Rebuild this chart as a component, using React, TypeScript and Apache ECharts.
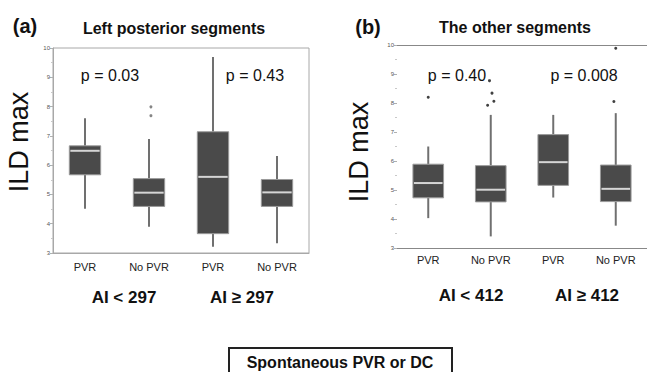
import React, { useEffect, useRef } from "react";
import * as echarts from "echarts";

const categories = ["PVR", "No PVR", "PVR", "No PVR"];
const groupLabelsA = ["AI < 297", "AI ≥ 297"];
const groupLabelsB = ["AI < 412", "AI ≥ 412"];
const pValuesA = ["p = 0.03", "p = 0.43"];
const pValuesB = ["p = 0.40", "p = 0.008"];

// [min, q1, median, q3, max]
const boxesA = [
  [4.51, 5.67, 6.49, 6.66, 7.6],
  [3.9, 4.59, 5.06, 5.54, 6.89],
  [3.21, 3.66, 5.6, 7.14, 9.69],
  [3.33, 4.59, 5.07, 5.51, 6.31],
];
const boxesB = [
  [4.03, 4.73, 5.24, 5.89, 6.5],
  [3.4, 4.59, 5.01, 5.84, 7.59],
  [4.74, 5.16, 5.96, 6.91, 7.59],
  [3.77, 4.6, 5.04, 5.86, 7.65],
];
// [category position, value]
const outliersA = [
  [1.03, 7.99],
  [1.03, 7.69],
];
const outliersB = [
  [0.0, 8.2],
  [0.98, 8.77],
  [1.02, 8.34],
  [1.05, 8.06],
  [0.95, 7.92],
  [3.0, 9.89],
  [2.97, 8.05],
];
const yTicks = { min: 3, max: 10, interval: 1 };

const FONT = "'Liberation Sans', Arial, sans-serif";

function renderBox(params: any, api: any) {
  const x = api.value(0);
  const lo = api.coord([x, api.value(1)]);
  const q1 = api.coord([x, api.value(2)]);
  const md = api.coord([x, api.value(3)]);
  const q3 = api.coord([x, api.value(4)]);
  const hi = api.coord([x, api.value(5)]);
  const bw = api.size([1, 0])[0] * 0.49;
  const whisker = { stroke: "#707070", lineWidth: 2 };
  return {
    type: "group",
    children: [
      { type: "line", shape: { x1: hi[0], y1: hi[1], x2: q3[0], y2: q3[1] }, style: whisker },
      { type: "line", shape: { x1: q1[0], y1: q1[1], x2: lo[0], y2: lo[1] }, style: whisker },
      {
        type: "rect",
        shape: { x: q3[0] - bw / 2, y: q3[1], width: bw, height: q1[1] - q3[1] },
        style: { fill: "#4a4a4a", stroke: "#9a9a9a", lineWidth: 1 },
      },
      {
        type: "line",
        shape: { x1: md[0] - bw / 2 + 1, y1: md[1], x2: md[0] + bw / 2 - 1, y2: md[1] },
        style: { stroke: "#d5d5d5", lineWidth: 2 },
      },
    ],
  };
}

function yAxisCfg(gridIndex: number, showLine: boolean) {
  return {
    type: "value",
    gridIndex,
    min: yTicks.min,
    max: yTicks.max,
    interval: yTicks.interval,
    axisLine: { show: showLine, onZero: false, lineStyle: { color: "#a8a8a8", width: 1 } },
    axisTick: { show: true, length: 3, lineStyle: { color: "#b0b0b0" } },
    minorTick: { show: true, splitNumber: 2, length: 2, lineStyle: { color: "#c8c8c8" } },
    splitLine: { show: false },
    axisLabel: { fontSize: 6, color: "#555", margin: 3, fontFamily: FONT },
  };
}

function txt(x: number, y: number, text: string, font: string, extra: any = {}) {
  return {
    type: "text",
    x,
    y,
    ...extra,
    style: { text, font, fill: "#111", align: "center", verticalAlign: "middle" },
  };
}

export default function App() {
  const ref = useRef<HTMLDivElement>(null);
  useEffect(() => {
    document.body.style.margin = "0";
    const chart = echarts.init(ref.current!, null, { renderer: "svg" });
    const option: any = {
      animation: false,
      backgroundColor: "#ffffff",
      grid: [
        { left: 53, top: 48, width: 256, height: 205, show: true, borderColor: "#a8a8a8", borderWidth: 1, backgroundColor: "transparent" },
        { left: 397, top: 45, width: 256, height: 203, show: false },
      ],
      xAxis: [
        {
          type: "category",
          gridIndex: 0,
          data: categories,
          axisLine: { show: true, onZero: false, lineStyle: { color: "#a8a8a8" } },
          axisTick: { show: false },
          axisLabel: { fontSize: 11, color: "#222", margin: 8, fontFamily: FONT },
        },
        { type: "value", gridIndex: 0, min: -0.5, max: 3.5, show: false },
        {
          type: "category",
          gridIndex: 1,
          data: categories,
          axisLine: { show: true, onZero: false, lineStyle: { color: "#888" } },
          axisTick: { show: false },
          axisLabel: { fontSize: 11, color: "#222", margin: 6, fontFamily: FONT },
        },
        {
          type: "value",
          gridIndex: 1,
          min: -0.5,
          max: 3.5,
          position: "top",
          axisLine: { show: true, onZero: false, lineStyle: { color: "#888" } },
          axisTick: { show: false },
          axisLabel: { show: false },
          splitLine: { show: false },
        },
      ],
      yAxis: [yAxisCfg(0, true), yAxisCfg(1, false)],
      series: [
        {
          type: "custom",
          xAxisIndex: 0,
          yAxisIndex: 0,
          renderItem: renderBox,
          encode: { x: 0, y: [1, 2, 3, 4, 5] },
          data: boxesA.map((b, i) => [i, ...b]),
        },
        {
          type: "scatter",
          xAxisIndex: 1,
          yAxisIndex: 0,
          symbolSize: 3,
          itemStyle: { color: "#666" },
          data: outliersA,
        },
        {
          type: "custom",
          xAxisIndex: 2,
          yAxisIndex: 1,
          renderItem: renderBox,
          encode: { x: 0, y: [1, 2, 3, 4, 5] },
          data: boxesB.map((b, i) => [i, ...b]),
        },
        {
          type: "scatter",
          xAxisIndex: 3,
          yAxisIndex: 1,
          symbolSize: 3,
          itemStyle: { color: "#111" },
          data: outliersB,
        },
      ],
      graphic: [
        txt(25, 26, "(a)", `bold 20px ${FONT}`),
        txt(174, 28, "Left posterior segments", `bold 16px ${FONT}`),
        txt(368, 27, "(b)", `bold 20px ${FONT}`),
        txt(515, 27, "The other segments", `bold 16px ${FONT}`),
        txt(110, 75, pValuesA[0], `16px ${FONT}`),
        txt(255, 75, pValuesA[1], `16px ${FONT}`),
        txt(457, 75, pValuesB[0], `16px ${FONT}`),
        txt(584, 75, pValuesB[1], `16px ${FONT}`),
        txt(19, 142, "ILD max", `27px ${FONT}`, { rotation: Math.PI / 2 }),
        txt(359, 152, "ILD max", `27px ${FONT}`, { rotation: Math.PI / 2 }),
        txt(124, 297, groupLabelsA[0], `bold 17px ${FONT}`),
        txt(242, 297, groupLabelsA[1], `bold 17px ${FONT}`),
        txt(471, 295, groupLabelsB[0], `bold 17px ${FONT}`),
        txt(587, 295, groupLabelsB[1], `bold 17px ${FONT}`),
        {
          type: "rect",
          shape: { x: 229, y: 348, width: 223, height: 40 },
          style: { fill: "#fff", stroke: "#222", lineWidth: 2 },
        },
        txt(340, 362, "Spontaneous PVR or DC", `bold 16px ${FONT}`),
      ],
    };
    chart.setOption(option);
    return () => chart.dispose();
  }, []);
  return <div ref={ref} style={{ width: 647, height: 372 }} />;
}
